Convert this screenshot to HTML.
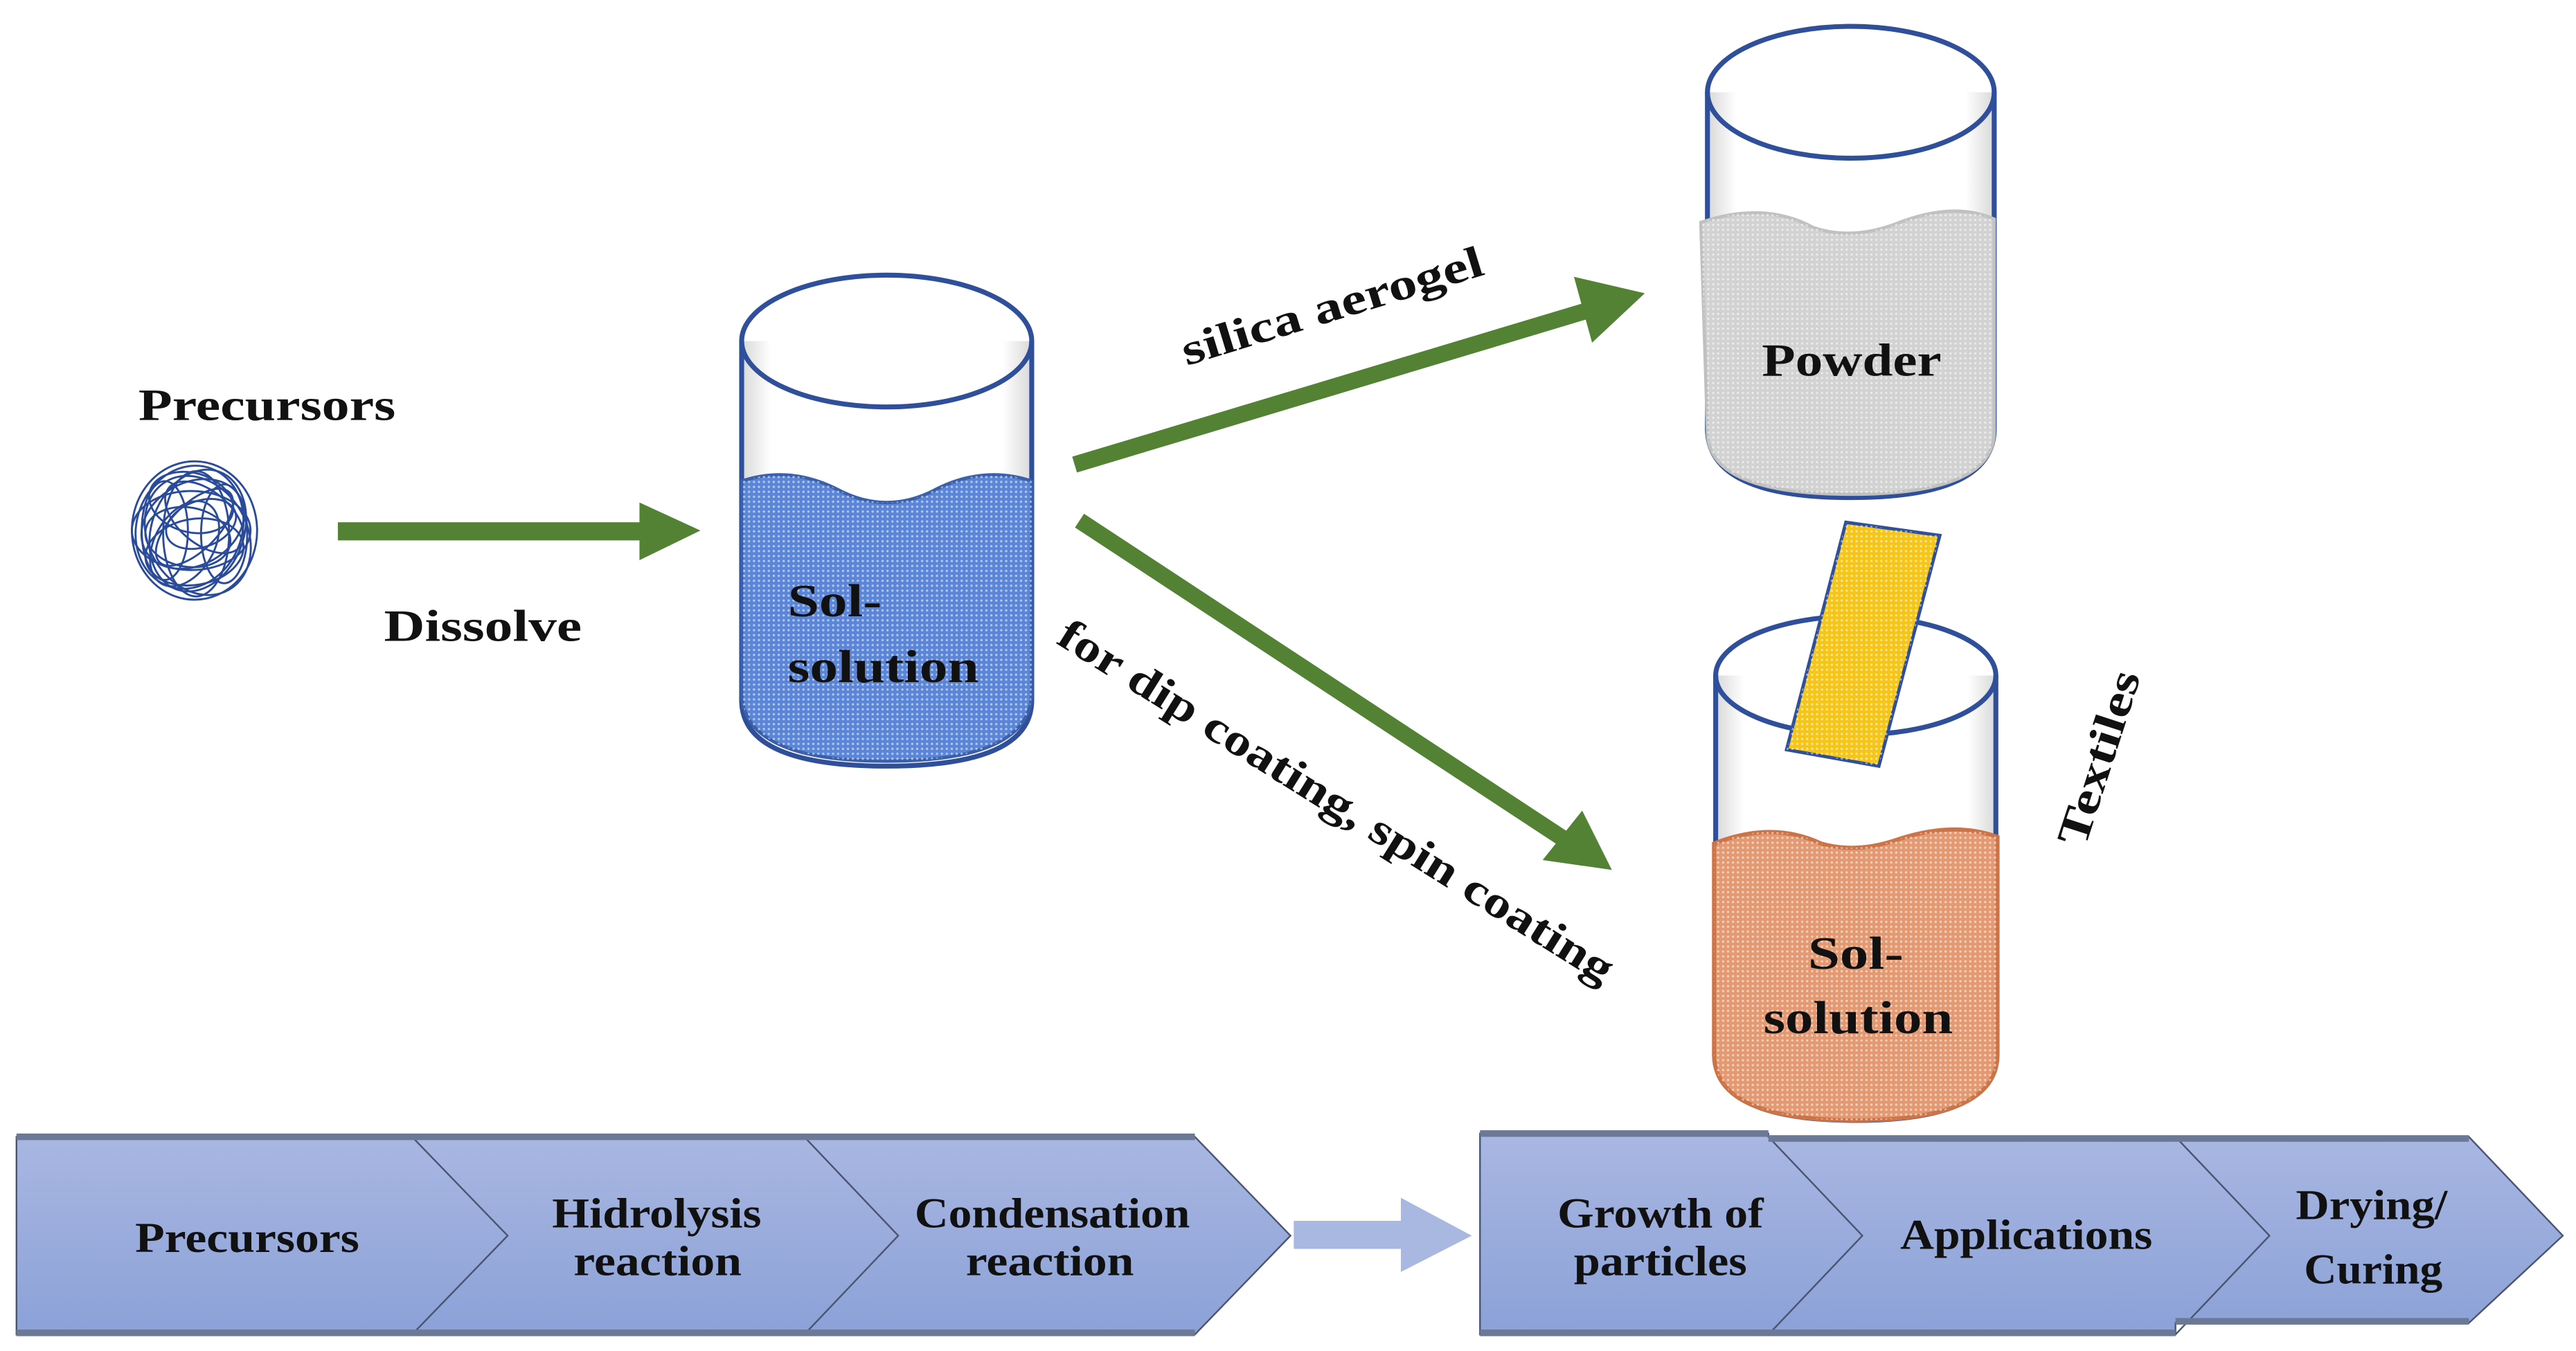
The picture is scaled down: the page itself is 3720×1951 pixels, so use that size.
<!DOCTYPE html>
<html><head><meta charset="utf-8"><style>
html,body{margin:0;padding:0;background:#fff}
svg{display:block}
text{font-family:"Liberation Serif",serif;font-weight:bold;fill:#111}
</style></head><body>
<svg width="3720" height="1951" viewBox="0 0 1563 820" preserveAspectRatio="none" xmlns="http://www.w3.org/2000/svg">
<defs>
<pattern id="dots" width="3" height="3" patternUnits="userSpaceOnUse"><circle cx="1.5" cy="1.5" r="0.7" fill="#fff" opacity="0.55"/></pattern>
<linearGradient id="chev" x1="0" y1="0" x2="0" y2="1"><stop offset="0" stop-color="#a9b7e2"/><stop offset="1" stop-color="#8ba1d7"/></linearGradient>
<linearGradient id="glass" x1="0" y1="0" x2="1" y2="0"><stop offset="0" stop-color="#d8d8d8"/><stop offset="0.1" stop-color="#fff"/><stop offset="0.9" stop-color="#fff"/><stop offset="1" stop-color="#d8d8d8"/></linearGradient>
</defs>

<text x="84" y="255" font-size="27" textLength="156" lengthAdjust="spacingAndGlyphs">Precursors</text>
<g fill="none" stroke="#2a4a9a" stroke-width="1.2">
<ellipse cx="118" cy="322" rx="38" ry="42"/>
<ellipse cx="115" cy="320" rx="32" ry="38" transform="rotate(20 115 320)"/>
<ellipse cx="120" cy="325" rx="30" ry="38" transform="rotate(-30 120 325)"/>
<ellipse cx="117" cy="318" rx="25" ry="33" transform="rotate(60 117 318)"/>
<ellipse cx="119" cy="324" rx="20" ry="38"/>
<ellipse cx="116" cy="322" rx="36" ry="24"/>
<ellipse cx="118" cy="320" rx="14" ry="30" transform="rotate(45 118 320)"/>
<ellipse cx="120" cy="322" rx="38" ry="28" transform="rotate(-70 120 322)"/>
<ellipse cx="114" cy="326" rx="26" ry="18" transform="rotate(10 114 326)"/>
<ellipse cx="122" cy="318" rx="22" ry="14" transform="rotate(-20 122 318)"/>
<ellipse cx="112" cy="330" rx="18" ry="28" transform="rotate(30 112 330)"/>
<ellipse cx="124" cy="314" rx="28" ry="16" transform="rotate(40 124 314)"/>
<ellipse cx="118" cy="335" rx="30" ry="20" transform="rotate(-10 118 335)"/>
<ellipse cx="116" cy="305" rx="26" ry="18" transform="rotate(15 116 305)"/>
<ellipse cx="100" cy="322" rx="14" ry="30"/>
<ellipse cx="136" cy="324" rx="14" ry="30"/>
</g>

<rect x="205" y="317" width="188" height="11" fill="#548235"/>
<polygon points="388,305 425,322 388,340" fill="#548235"/>
<text x="233" y="389" font-size="27" textLength="120" lengthAdjust="spacingAndGlyphs">Dissolve</text>

<path d="M450,207 L450,425 Q450,465 538,465 Q626,465 626,425 L626,207" fill="url(#glass)" stroke="#2f4f9a" stroke-width="3"/>
<path d="M450,292 Q480,282 510,298 Q538,312 566,298 Q596,282 626,292 L626,420 Q626,462 538,462 Q450,462 450,420 Z" fill="#5b86d8" stroke="#3a5fab" stroke-width="2"/>
<path d="M450,292 Q480,282 510,298 Q538,312 566,298 Q596,282 626,292 L626,420 Q626,462 538,462 Q450,462 450,420 Z" fill="url(#dots)"/>
<ellipse cx="538" cy="207" rx="88" ry="40" fill="none" stroke="#2f4f9a" stroke-width="3"/>
<text x="478" y="374" font-size="28" textLength="57" lengthAdjust="spacingAndGlyphs">Sol-</text>
<text x="478" y="414" font-size="28" textLength="116" lengthAdjust="spacingAndGlyphs">solution</text>

<line x1="652" y1="282" x2="968" y2="187" stroke="#548235" stroke-width="10"/>
<polygon points="955,168 998,178 966,208" fill="#548235"/>
<line x1="655" y1="316" x2="950" y2="510" stroke="#548235" stroke-width="10"/>
<polygon points="960,492 978,528 936,522" fill="#548235"/>
<text x="0" y="0" font-size="27" textLength="190" lengthAdjust="spacingAndGlyphs" transform="translate(720,222) rotate(-17)">silica aerogel</text>
<text x="0" y="0" font-size="27" textLength="392" lengthAdjust="spacingAndGlyphs" transform="translate(640,390) rotate(32)">for dip coating, spin coating</text>

<path d="M1036,56 L1036,260 Q1036,302 1123,302 Q1210,302 1210,260 L1210,56" fill="url(#glass)" stroke="#2f4f9a" stroke-width="3"/>
<path d="M1032,135 Q1070,122 1100,138 Q1123,146 1150,136 Q1185,122 1210,133 L1210,262 Q1210,300 1123,300 Q1036,300 1036,262 Z" fill="#d2d2d2" stroke="#c0c0c0" stroke-width="2"/>
<path d="M1032,135 Q1070,122 1100,138 Q1123,146 1150,136 Q1185,122 1210,133 L1210,262 Q1210,300 1123,300 Q1036,300 1036,262 Z" fill="url(#dots)"/>
<ellipse cx="1123" cy="56" rx="87" ry="40" fill="none" stroke="#2f4f9a" stroke-width="3"/>
<text x="1069" y="228" font-size="28" textLength="109" lengthAdjust="spacingAndGlyphs">Powder</text>

<path d="M1041,410 L1041,640 Q1041,680 1126,680 Q1211,680 1211,640 L1211,410" fill="url(#glass)" stroke="#2f4f9a" stroke-width="3"/>
<path d="M1040,512 Q1075,498 1105,512 Q1126,518 1150,510 Q1185,498 1212,508 L1212,640 Q1212,680 1126,680 Q1040,680 1040,640 Z" fill="#e39a72" stroke="#cc7447" stroke-width="2.5"/>
<path d="M1040,512 Q1075,498 1105,512 Q1126,518 1150,510 Q1185,498 1212,508 L1212,640 Q1212,680 1126,680 Q1040,680 1040,640 Z" fill="url(#dots)"/>
<ellipse cx="1126" cy="410" rx="85" ry="36" fill="none" stroke="#2f4f9a" stroke-width="3"/>
<polygon points="1120,317 1177,325 1140,465 1084,455" fill="#f5c518" stroke="#2f4f9a" stroke-width="2"/>
<polygon points="1120,317 1177,325 1140,465 1084,455" fill="url(#dots)"/>
<text x="1097" y="588" font-size="28" textLength="58" lengthAdjust="spacingAndGlyphs">Sol-</text>
<text x="1070" y="627" font-size="28" textLength="115" lengthAdjust="spacingAndGlyphs">solution</text>
<text x="0" y="0" font-size="27" textLength="110" lengthAdjust="spacingAndGlyphs" transform="translate(1265,515) rotate(-72)">Textiles</text>

<g stroke="#4a5470" stroke-width="1">
<polygon points="10,690 725,690 783,750 725,810 10,810" fill="url(#chev)"/>
<polyline points="250,690 308,750 250,810" fill="none"/>
<polyline points="488,690 545,750 488,810" fill="none"/>
</g>
<rect x="10" y="688" width="715" height="4" fill="#6b7896"/>
<rect x="10" y="807" width="715" height="4" fill="#6b7896"/>
<rect x="785" y="741" width="65" height="17" fill="#a9b8e0"/>
<polygon points="850,727 893,750 850,772" fill="#a9b8e0"/>
<g stroke="#4a5470" stroke-width="1">
<polygon points="898,688 1073,688 1073,690 1498,690 1555,750 1498,803 1320,803 1320,810 898,810" fill="url(#chev)"/>
<polyline points="1073,690 1130,750 1073,810" fill="none"/>
<polyline points="1320,690 1377,750 1320,810" fill="none"/>
</g>
<rect x="898" y="686" width="175" height="4" fill="#6b7896"/>
<rect x="1073" y="689" width="425" height="4" fill="#6b7896"/>
<rect x="898" y="807" width="422" height="4" fill="#6b7896"/>
<rect x="1320" y="800" width="178" height="4" fill="#6b7896"/>

<g font-size="26">
<text x="82" y="760" textLength="136" lengthAdjust="spacingAndGlyphs">Precursors</text>
<text x="335" y="745" textLength="127" lengthAdjust="spacingAndGlyphs">Hidrolysis</text>
<text x="348" y="774" textLength="102" lengthAdjust="spacingAndGlyphs">reaction</text>
<text x="555" y="745" textLength="167" lengthAdjust="spacingAndGlyphs">Condensation</text>
<text x="586" y="774" textLength="102" lengthAdjust="spacingAndGlyphs">reaction</text>
<text x="945" y="745" textLength="125" lengthAdjust="spacingAndGlyphs">Growth of</text>
<text x="955" y="774" textLength="105" lengthAdjust="spacingAndGlyphs">particles</text>
<text x="1153" y="758" textLength="153" lengthAdjust="spacingAndGlyphs">Applications</text>
<text x="1393" y="740" textLength="92" lengthAdjust="spacingAndGlyphs">Drying/</text>
<text x="1398" y="779" textLength="84" lengthAdjust="spacingAndGlyphs">Curing</text>
</g>
</svg>
</body></html>
